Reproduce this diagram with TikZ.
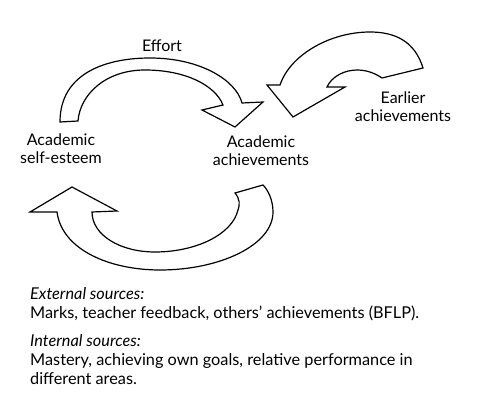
\documentclass[tikz,border=0pt]{standalone}
\usepackage{fontspec}
\setmainfont{Lato}
\begin{document}
\begin{tikzpicture}[x=1pt,y=-1pt,
  blockarrow/.style={draw=black,line width=1.2pt,fill=white,line join=miter},
  lbl/.style={inner sep=0pt,align=center,font=\fontsize{16}{18}\selectfont},
  src/.style={inner sep=0pt,align=left,anchor=north west,font=\fontsize{16.3}{19}\selectfont}]
\useasboundingbox (0,0) rectangle (479,403);
% Effort arrow
\draw[blockarrow] (60,122) .. controls (60,72) and (108,58) .. (150,58)
  .. controls (200,58) and (236,80) .. (242,103)
  -- (263,102) -- (235,127) -- (202,110) -- (223,105)
  .. controls (215,85) and (185,70) .. (145,70)
  .. controls (105,70) and (80,95) .. (78,121) -- cycle;
% Earlier arrow
\draw[blockarrow] (423,68) .. controls (415,42) and (396,32) .. (370,32)
  .. controls (330,32) and (290,55) .. (280,85)
  -- (267,85) -- (293,117) -- (345,87) -- (327,87)
  .. controls (332,76) and (345,70) .. (357,70)
  .. controls (368,70) and (376,74) .. (382,78) -- cycle;
% Bottom arrow
\draw[blockarrow] (57,212) .. controls (62,250) and (110,270) .. (160,270)
  .. controls (220,270) and (273,245) .. (273,212)
  .. controls (273,200) and (268,190) .. (263,185)
  -- (235,193) .. controls (240,199) and (240,205) .. (238,210)
  .. controls (232,235) and (195,252) .. (155,252)
  .. controls (120,252) and (92,235) .. (92,212)
  -- (117,211) -- (72,187) -- (30,212) -- cycle;
% labels
\node[lbl] (effort) at (162,46) {Effort};
\node[lbl] (selfesteem) at (61,149) {Academic\\self-esteem};
\node[lbl] (achieve) at (261,151) {Academic\\achievements};
\node[lbl] (earlier) at (403,107) {Earlier\\achievements};
\node[src] (external) at (30,287) {\textit{External sources:}\\Marks, teacher feedback, others' achievements (BFLP).};
\node[src] (internal) at (30,334) {\textit{Internal sources:}\\Mastery, achieving own goals, relative performance in\\different areas.};
\end{tikzpicture}
\end{document}
